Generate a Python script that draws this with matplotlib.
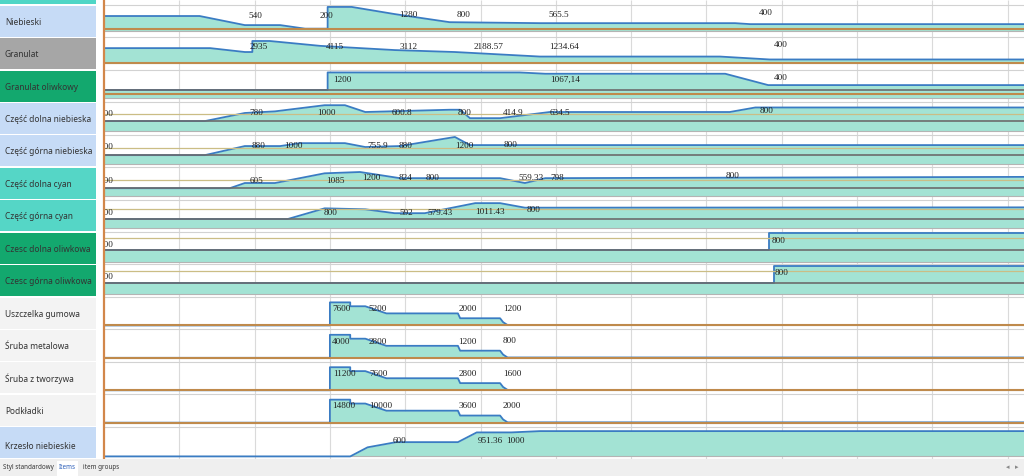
import numpy as np
import matplotlib.pyplot as plt
from matplotlib.transforms import Bbox, TransformedBbox

W, H = 1024, 476

row_names = ["Niebieski", "Granulat", "Granulat oliwkowy", "Część dolna niebieska",
             "Część górna niebieska", "Część dolna cyan", "Część górna cyan",
             "Czesc dolna oliwkowa", "Czesc górna oliwkowa", "Uszczelka gumowa",
             "Śruba metalowa", "Śruba z tworzywa", "Podkładki", "Krzesło niebieskie"]
row_colors = ["#c6dbf6", "#a6a6a6", "#13a86e", "#c6dbf6", "#c6dbf6", "#55d6c6", "#55d6c6",
              "#13a86e", "#13a86e", "#f3f3f3", "#f3f3f3", "#f3f3f3", "#f3f3f3", "#c6dbf6"]

# stock profiles: x in weeks (grid columns), level as share of the row height
niebieski_t = [0, 1.27, 1.87, 2.34, 2.67, 2.97, 2.97, 3.29, 3.86, 4.59, 5.79, 8.38, 8.58, 12.3]
niebieski_lvl = [0.66, 0.66, 0.38, 0.38, 0.27, 0.27, 0.94, 0.94, 0.72, 0.47, 0.44, 0.44, 0.41, 0.41]
granulat_t = [0, 1.41, 1.87, 1.97, 1.97, 2.20, 2.87, 3.86, 4.66, 5.79, 8.18, 8.84, 12.3]
granulat_lvl = [0.67, 0.67, 0.55, 0.55, 0.89, 0.89, 0.74, 0.61, 0.55, 0.41, 0.41, 0.32, 0.32]
gran_oliw_t = [0, 2.97, 2.97, 5.52, 5.86, 8.25, 8.82, 12.3]
gran_oliw_lvl = [0.38, 0.38, 0.92, 0.92, 0.88, 0.88, 0.53, 0.53]
dolna_nieb_t = [0, 1.34, 1.87, 2.27, 2.93, 3.2, 3.47, 4.59, 4.73, 4.86, 5.26, 5.92, 8.31, 8.65, 12.3]
dolna_nieb_lvl = [0.42, 0.42, 0.67, 0.72, 0.91, 0.91, 0.70, 0.77, 0.77, 0.51, 0.51, 0.70, 0.70, 0.84, 0.84]
gorna_nieb_t = [0, 1.34, 1.87, 2.34, 2.6, 3.2, 3.47, 3.93, 4.66, 4.86, 12.3]
gorna_nieb_lvl = [0.37, 0.37, 0.65, 0.65, 0.74, 0.74, 0.62, 0.65, 0.93, 0.68, 0.68]
dolna_cyan_t = [0, 1.67, 1.87, 2.27, 2.93, 3.40, 3.93, 5.26, 5.59, 5.86, 12.3]
dolna_cyan_lvl = [0.35, 0.35, 0.51, 0.51, 0.81, 0.85, 0.66, 0.66, 0.51, 0.66, 0.70]
gorna_cyan_t = [0, 2.44, 2.93, 3.47, 3.86, 4.26, 4.93, 5.26, 5.59, 12.3]
gorna_cyan_lvl = [0.40, 0.40, 0.73, 0.70, 0.58, 0.58, 0.89, 0.89, 0.75, 0.76]
dolna_oliw_t = [0, 8.83, 8.83, 12.3]
dolna_oliw_lvl = [0.44, 0.44, 0.96, 0.96]
gorna_oliw_t = [0, 8.90, 8.90, 12.3]
gorna_oliw_lvl = [0.43, 0.43, 0.94, 0.94]
# the four fastener rows share the same step shape
czesci_t = [0, 3.0, 3.0, 3.27, 3.27, 3.47, 3.75, 4.70, 4.73, 5.26, 5.30, 5.36, 12.3]
czesci_lvl = [0.12, 0.12, 0.83, 0.83, 0.71, 0.71, 0.49, 0.49, 0.34, 0.34, 0.22, 0.13, 0.13]
krzeslo_t = [0, 3.27, 3.50, 3.88, 4.70, 4.95, 5.41, 5.79, 12.3]
krzeslo_lvl = [0.08, 0.08, 0.36, 0.52, 0.52, 0.82, 0.82, 0.86, 0.86]

prof_t = [niebieski_t, granulat_t, gran_oliw_t, dolna_nieb_t, gorna_nieb_t, dolna_cyan_t,
          gorna_cyan_t, dolna_oliw_t, gorna_oliw_t, czesci_t, czesci_t, czesci_t, czesci_t, krzeslo_t]
prof_lvl = [niebieski_lvl, granulat_lvl, gran_oliw_lvl, dolna_nieb_lvl, gorna_nieb_lvl, dolna_cyan_lvl,
            gorna_cyan_lvl, dolna_oliw_lvl, gorna_oliw_lvl, czesci_lvl, czesci_lvl, czesci_lvl,
            czesci_lvl, krzeslo_lvl]

base_lvl = [0.20, 0.20, 0.13, 0.11, 0.11, 0.12, 0.12, 0.08, 0.08, 0.12, 0.12, 0.12, 0.12, 0.08]
zero_lvl = [None, None, 0.38, 0.42, 0.37, 0.35, 0.40, 0.44, 0.43, None, None, None, None, None]
safety_lvl = [0.25, 0.20, 0.25, 0.64, 0.60, 0.60, 0.70, 0.82, 0.80, 0.12, 0.12, 0.12, 0.12, None]
safety_kind = ["o", "o", "o", "g", "g", "g", "g", "g", "g", "o", "o", "o", "o", None]

# value labels per row: (text, week, level)
labels = [
    [("540", 2.01, 0.66), ("200", 2.95, 0.66), ("1280", 4.04, 0.69), ("800", 4.78, 0.69),
     ("565.5", 6.04, 0.69), ("400", 8.79, 0.75)],
    [("2935", 2.05, 0.69), ("4115", 3.07, 0.69), ("3112", 4.04, 0.69), ("2188.57", 5.10, 0.69),
     ("1234.64", 6.11, 0.69), ("400", 8.99, 0.77)],
    [("1200", 3.16, 0.69), ("1067,14", 6.12, 0.69), ("400", 8.99, 0.75)],
    [("780", 2.02, 0.67), ("1000", 2.96, 0.67), ("600.8", 3.96, 0.67), ("800", 4.79, 0.67),
     ("414.9", 5.43, 0.67), ("634.5", 6.06, 0.67), ("800", 8.80, 0.73)],
    [("880", 2.05, 0.65), ("1000", 2.51, 0.65), ("755.9", 3.63, 0.65), ("880", 4.01, 0.65),
     ("1200", 4.78, 0.65), ("800", 5.40, 0.68)],
    [("605", 2.02, 0.57), ("1085", 3.07, 0.57), ("1200", 3.55, 0.66), ("824", 4.01, 0.66),
     ("800", 4.37, 0.66), ("559.33", 5.67, 0.66), ("798", 6.02, 0.68), ("800", 8.35, 0.72)],
    [("800", 3.01, 0.58), ("592", 4.01, 0.60), ("579.43", 4.46, 0.60), ("1011.43", 5.13, 0.61),
     ("800", 5.70, 0.67)],
    [("800", 8.96, 0.72)],
    [("800", 9.00, 0.73)],
    [("7600", 3.15, 0.62), ("5200", 3.64, 0.62), ("2000", 4.83, 0.62), ("1200", 5.42, 0.62)],
    [("4000", 3.15, 0.62), ("2800", 3.64, 0.62), ("1200", 4.83, 0.62), ("800", 5.39, 0.63)],
    [("11200", 3.19, 0.62), ("7600", 3.65, 0.62), ("2800", 4.83, 0.62), ("1600", 5.42, 0.63)],
    [("14800", 3.19, 0.62), ("10000", 3.67, 0.62), ("3600", 4.83, 0.62), ("2000", 5.42, 0.63)],
    [("600", 3.93, 0.57), ("951.36", 5.13, 0.57), ("1000", 5.47, 0.57)],
]
start_lvl = [None, None, None, 0.64, 0.62, 0.57, 0.58, 0.59, 0.60, None, None, None, None, None]

tab_names = ["Styl standardowy", "Items", "item groups"]

fill_col = "#a3e3d4"
line_col = "#3a7cc3"
n = len(row_names)
top = 5 / 32.43

fig = plt.figure(figsize=(W / 100, H / 100), dpi=100)
fig.patch.set_facecolor("white")

# chart area
ax = fig.add_axes([101 / W, 17 / H, 923 / W, 459 / H])
ax.set_xlim(-3 / 75.3, 920 / 75.3)
ax.set_ylim(n, -top)
ax.axis("off")
plot_box = TransformedBbox(Bbox([[0, -top], [12.3, n]]), ax.transData)

ax.vlines(np.arange(1, 13), -top, n, color="#dadada", lw=0.8, zorder=1)
ax.hlines(np.arange(n + 1), 0, 12.3, color="#d2d2d2", lw=0.8, zorder=1)

for i in range(n):
    t = np.array(prof_t[i])
    y = i + 1 - np.array(prof_lvl[i])
    base = i + 1 - base_lvl[i]
    ax.fill_between(t, y, base, color=fill_col, lw=0, zorder=2)
    ax.hlines(base, 0, 12.3, color="#b4b4b4", lw=0.8, zorder=3)
    ax.plot(t, y, color=line_col, lw=1.3, zorder=4)
    if zero_lvl[i] is not None:
        ax.hlines(i + 1 - zero_lvl[i], 0, 12.3, color="#6c6c6c", lw=1.2, zorder=5)
    if safety_lvl[i] is not None:
        if safety_kind[i] == "o":
            ax.hlines(i + 1 - safety_lvl[i], 0, 12.3, color="#bf8a4c", lw=1.5, zorder=5)
        else:
            ax.hlines(i + 1 - safety_lvl[i], 0, 12.3, color="#cbbd85", lw=0.9, zorder=5)
    for s, tx, lv in labels[i]:
        ax.text(tx, i + 1 - lv, s, ha="center", va="center", fontsize=6.6,
                family="Liberation Serif", color="#1e1e1e", zorder=6)
    if start_lvl[i] is not None:
        st = ax.text(0.125, i + 1 - start_lvl[i], "800", ha="right", va="center", fontsize=6.6,
                     family="Liberation Serif", color="#1e1e1e", zorder=6)
        st.set_clip_box(plot_box)
        st.set_clip_on(True)

ax.vlines(0, -top, n, color="#d2874a", lw=1.6, zorder=7)

# row names column
axl = fig.add_axes([0, 17 / H, 96 / W, 459 / H])
axl.set_xlim(0, 1)
axl.set_ylim(n, -top)
axl.axis("off")
axl.barh(np.arange(n) + 0.5, 1, height=0.96, color=row_colors)
axl.barh(-0.5, 1, height=0.96, color="#4fd6c6")
for i, name in enumerate(row_names):
    dy = 0.62 if i == n - 1 else 0.53
    axl.text(0.05, i + dy, name, va="center", ha="left", fontsize=6,
             family="Noto Sans", color="#333333")

# sheet tabs
axt = fig.add_axes([0, 0, 1, 17 / H])
axt.set_xlim(0, W)
axt.set_ylim(0, 17)
axt.set_facecolor("#efefef")
axt.set_xticks([])
axt.set_yticks([])
for sp in axt.spines.values():
    sp.set_visible(False)
axt.bar(67.5, 15, width=21, bottom=0, color="white")
axt.text(3, 8.5, tab_names[0], fontsize=4.5, family="Noto Sans", color="#333333", va="center")
axt.text(59, 8.5, tab_names[1], fontsize=4.5, family="Noto Sans", color="#2a5db8",
         va="center", weight="bold")
axt.text(83, 8.5, tab_names[2], fontsize=4.5, family="Noto Sans", color="#333333", va="center")
axt.text(1006, 8.5, "◂", fontsize=5, color="#888888", va="center")
axt.text(1015, 8.5, "▸", fontsize=5, color="#888888", va="center")

fig.savefig("out.png", dpi=100)
